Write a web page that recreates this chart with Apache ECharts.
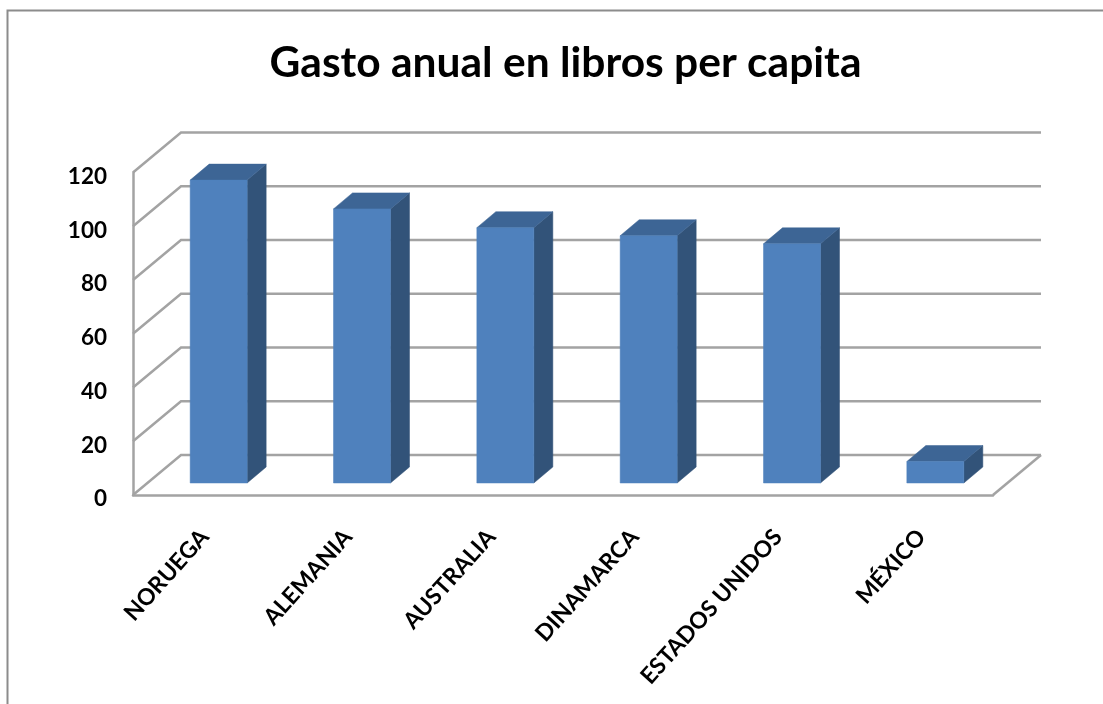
<!DOCTYPE html>
<html><head><meta charset="utf-8">
<style>html,body{margin:0;padding:0;background:#fff}#c{width:1103px;height:704px}</style>
<script src="https://cdn.jsdelivr.net/npm/echarts@6/dist/echarts.min.js"></script>
</head><body><div id="c"></div>
<script>
const categories = ['NORUEGA','ALEMANIA','AUSTRALIA','DINAMARCA','ESTADOS UNIDOS','MÉXICO'];
const gasto = [112.7, 102, 95, 92, 89, 8];
const yTicks = [0,20,40,60,80,100,120];

const FONT = 'Lato, "Open Sans", sans-serif';
const GRID = '#a3a3a3';
const wallDX = 48, wallDY = -40;       // depth of the 3D floor
const barDX = 19, barDY = -16;         // depth of each bar
const barOX = 14, barOY = -12;         // front-face offset of the bars inside the floor
const barW = 57;

function poly(points, fill){
  return {type:'polygon', shape:{points}, style:{fill, stroke:fill, lineWidth:0.5}};
}
function renderWall(params, api){
  const cs = params.coordSys;
  const v = api.value(0);
  const y = api.coord([0, v])[1];
  const x0 = cs.x, x1 = cs.x + cs.width;
  const pts = [[x0,y],[x0+wallDX,y+wallDY],[x1+wallDX,y+wallDY]];
  const children = [{type:'polyline', shape:{points:pts}, style:{fill:null, stroke:GRID, lineWidth:2.5}}];
  if (v === 0) {
    children.push({type:'line', shape:{x1:x1,y1:y,x2:x1+wallDX,y2:y+wallDY}, style:{stroke:GRID, lineWidth:2.5}});
  }
  return {type:'group', children};
}
function renderBar(params, api){
  const i = api.value(0), v = api.value(1);
  const top = api.coord([i, v]), base = api.coord([i, 0]);
  const l = top[0] - barW/2 + barOX, r = l + barW;
  const t = top[1] + barOY, b = base[1] + barOY;
  return {type:'group', children:[
    poly([[r,t],[r+barDX,t+barDY],[r+barDX,b+barDY],[r,b]], '#325379'),
    poly([[l,t],[l+barDX,t+barDY],[r+barDX,t+barDY],[r,t]], '#3D6595'),
    poly([[l,t],[r,t],[r,b],[l,b]], '#4F81BD')
  ]};
}
const chart = echarts.init(document.getElementById('c'));
chart.setOption({
  animation:false,
  backgroundColor:'#fff',
  title:{text:'Gasto anual en libros per capita', left:560.5, top:37, textAlign:'center',
    textStyle:{fontFamily:FONT, fontSize:42.5, fontWeight:'bold', color:'#000'}},
  graphic:[{type:'polyline', silent:true, z:100,
    shape:{points:[[7.5,704],[7.5,10.5],[1103,10.5]]},
    style:{fill:null, stroke:'#8c8c8c', lineWidth:2}}],
  grid:{left:133, right:110, top:172.5, bottom:209},
  xAxis:{type:'category', data:categories,
    axisLine:{show:true, lineStyle:{color:GRID, width:2.5}}, axisTick:{show:false},
    axisLabel:{rotate:48, margin:38, interval:0, fontFamily:FONT, fontSize:23, fontWeight:'bold', color:'#000'}},
  yAxis:{type:'value', min:0, max:120, interval:20,
    axisLine:{show:true, lineStyle:{color:GRID, width:2.5}}, axisTick:{show:false}, splitLine:{show:false},
    axisLabel:{margin:26, verticalAlign:'top', lineHeight:8, fontFamily:FONT, fontSize:22.5, fontWeight:'bold', color:'#000'}},
  series:[
    {type:'custom', renderItem:renderWall, data:yTicks.map(v=>[v]), encode:{y:0}, silent:true, clip:false, z:1},
    {type:'custom', renderItem:renderBar, data:gasto.map((v,i)=>[i,v]), encode:{x:0,y:1}, silent:true, clip:false, z:2}
  ]
});
</script></body></html>
